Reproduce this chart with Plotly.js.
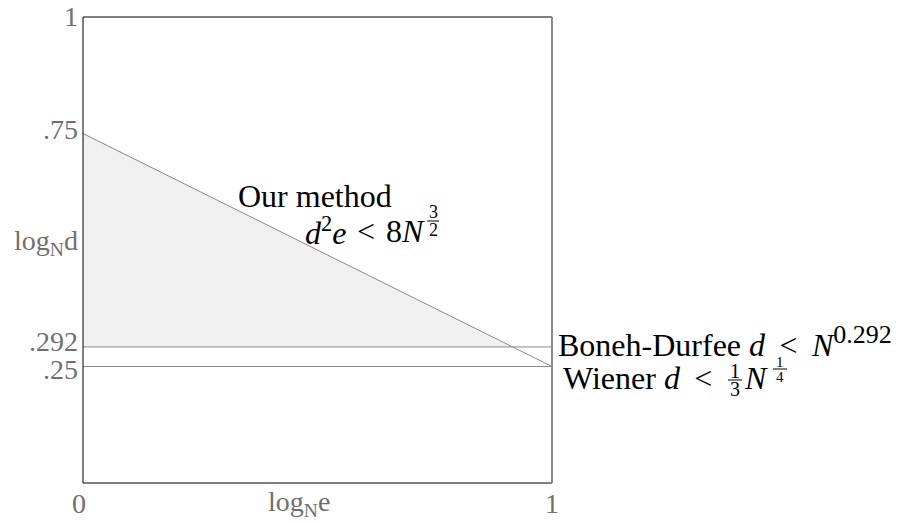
<!DOCTYPE html>
<html><head><meta charset="utf-8">
<script src="https://cdn.plot.ly/plotly-3.0.1.min.js"></script>
<style>html,body{margin:0;padding:0;background:#fff}#c{width:898px;height:523px}</style>
</head><body><div id="c"></div>
<script>
// ---- data ----
const methodX = [0, 1];
const methodY = [0.75, 0.25];      // d^2 e < 8 N^{3/2}
const bonehY = 0.292;              // Boneh-Durfee d < N^0.292
const wienerY = 0.25;              // Wiener d < 1/3 N^{1/4}
const xTickVals = [0, 1];
const xTickText = ['0', '1'];
const yTickVals = [1, 0.75, 0.292, 0.25];
const yTickText = ['1', '.75', '.292', '.25'];

// intersection of method line with Boneh-Durfee line
const slope = (methodY[1] - methodY[0]) / (methodX[1] - methodX[0]);
const xi = (bonehY - methodY[0]) / slope;

const L = 83, R = 552, T = 17, B = 483, W = 898, H = 523;
const px = x => (x - L) / (R - L);
const py = y => (B - y) / (B - T);
const SERIF = 'Liberation Serif, Times New Roman, serif';
const GREY = '#6f6f6f';
const LINE = '#8a8a8a';
const SP = '&nbsp;&#8201;';

function ann(text, x, y, size, o) {
  return Object.assign({text: text, xref: 'paper', yref: 'paper', x: px(x), y: py(y),
    xanchor: 'left', yanchor: 'middle', showarrow: false,
    font: {family: SERIF, size: size, color: '#000'}}, o || {});
}
function hline(x0, x1, y, color, w) {
  return {type: 'line', xref: 'paper', yref: 'paper', x0: px(x0), x1: px(x1), y0: py(y), y1: py(y),
    line: {color: color || '#000', width: w || 1}};
}

const traces = [
  {x: [0, xi, 0], y: [methodY[0], bonehY, bonehY], type: 'scatter', mode: 'lines',
   fill: 'toself', fillcolor: '#f0f0f0', line: {width: 0}, hoverinfo: 'skip'},
  {x: methodX, y: methodY, type: 'scatter', mode: 'lines', line: {color: LINE, width: 1}},
  {x: [0, 1], y: [bonehY, bonehY], type: 'scatter', mode: 'lines', line: {color: LINE, width: 1}},
  {x: [0, 1], y: [wienerY, wienerY], type: 'scatter', mode: 'lines', line: {color: LINE, width: 1}}
];

const yTickShift = [1, 4, 5, -3];
const yTickAnns = yTickVals.map((v, i) => ({
  text: yTickText[i], xref: 'paper', yref: 'y', x: 0, y: v, xshift: -3, yshift: yTickShift[i],
  xanchor: 'right', yanchor: 'middle', showarrow: false,
  font: {family: SERIF, size: 28, color: GREY}
}));
const xTickShift = [-4, 0];
const xTickAnns = xTickVals.map((v, i) => ({
  text: xTickText[i], xref: 'x', yref: 'paper', x: v, y: 0, xshift: xTickShift[i], yshift: -20,
  xanchor: 'center', yanchor: 'middle', showarrow: false,
  font: {family: SERIF, size: 28, color: GREY}
}));

const annotations = yTickAnns.concat(xTickAnns, [
  ann('Our method', 236, 196, 32),
  ann('<i>d</i><sup>2</sup><i>e</i>', 303, 231, 32),
  ann('&lt;', 366, 231, 32, {xanchor: 'center'}),
  ann('8<i>N</i>', 384, 231, 32),
  ann('3', 433, 212, 18, {xanchor: 'center'}),
  ann('2', 433, 230, 18, {xanchor: 'center'}),
  ann('Boneh-Durfee <i>d</i>' + SP + '&lt;' + SP + '<i>N</i><sup><span style="font-size:26px">0.292</span></sup>', 556, 341, 32),
  ann('Wiener <i>d</i>' + SP + '&lt;', 561, 378, 32),
  ann('1', 735, 371, 20, {xanchor: 'center'}),
  ann('3', 735, 389, 20, {xanchor: 'center'}),
  ann('<i>N</i>', 742, 378, 32),
  ann('1', 780, 362, 15, {xanchor: 'center'}),
  ann('4', 780, 377, 15, {xanchor: 'center'}),
  ann('log<sub>N</sub>d', 80, 242, 28, {xanchor: 'right', font: {family: SERIF, size: 28, color: GREY}}),
  ann('log<sub>N</sub>e', 299, 503, 28, {xanchor: 'center', font: {family: SERIF, size: 28, color: GREY}})
]);

const shapes = [
  hline(L, R, T, '#000', 1),
  hline(L, R, B, '#000', 1),
  {type: 'line', xref: 'paper', yref: 'paper', x0: 0, x1: 0, y0: 0, y1: 1, line: {color: '#000', width: 1}},
  {type: 'line', xref: 'paper', yref: 'paper', x0: 1, x1: 1, y0: 0, y1: 1, line: {color: '#8a8a8a', width: 2}},
  hline(427, 439, 221, '#000', 1),
  hline(728, 742, 380, '#000', 1),
  hline(773, 787, 369, '#000', 1)
];

const layout = {
  width: W, height: H,
  margin: {l: L, r: W - R, t: T, b: H - B, pad: 0},
  paper_bgcolor: '#fff', plot_bgcolor: '#fff',
  showlegend: false,
  font: {family: SERIF, color: GREY, size: 28},
  xaxis: {range: [0, 1], showgrid: false, zeroline: false, showline: false, ticks: '',
          showticklabels: false},
  yaxis: {range: [0, 1], showgrid: false, zeroline: false, showline: false, ticks: '',
          showticklabels: false},
  annotations: annotations,
  shapes: shapes
};

Plotly.newPlot('c', traces, layout, {staticPlot: true, displayModeBar: false});
</script></body></html>
